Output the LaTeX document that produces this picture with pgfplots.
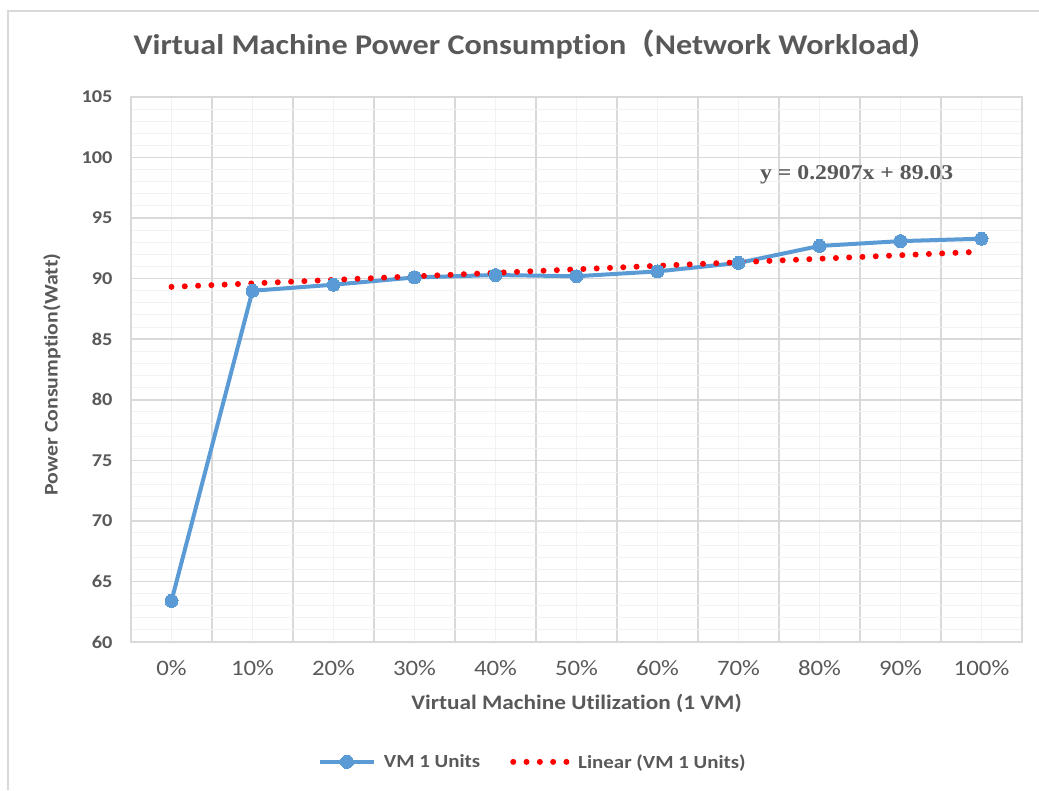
\documentclass[border=0pt]{standalone}
\usepackage{pgfplots}
\pgfplotsset{compat=1.18}
\usepackage{fontspec}
\setmainfont{Carlito}[FakeStretch=1.13, Ligatures=NoCommon]
\newfontfamily\eqfont{Liberation Serif}[FakeStretch=1.13]
\newfontfamily\cjk{Noto Sans CJK SC}
\definecolor{txt}{HTML}{595959}
\definecolor{vmblue}{HTML}{5B9BD5}
\definecolor{gmaj}{HTML}{D9D9D9}
\definecolor{gmin}{HTML}{F2F2F2}
\begin{document}
\begin{tikzpicture}
\useasboundingbox (0pt,0pt) rectangle (1039pt,790pt);
\draw[gmaj, line width=2pt] (8pt,0pt) -- (8pt,779pt) -- (1039pt,779pt);
\begin{axis}[
  at={(131pt,148pt)}, anchor=south west,
  width=891pt, height=545pt, scale only axis,
  xmin=-0.5, xmax=10.5, ymin=60, ymax=105,
  xtick={0,...,10},
  xticklabels={0\%,10\%,20\%,30\%,40\%,50\%,60\%,70\%,80\%,90\%,100\%},
  minor x tick num=1,
  ytick={60,65,...,105},
  minor y tick num=4,
  major tick length=0pt, minor tick length=0pt,
  xmajorgrids, xminorgrids, ymajorgrids, yminorgrids,
  major x grid style={gmin, line width=1pt},
  minor x grid style={gmaj, line width=1.5pt},
  major y grid style={gmaj, line width=1.5pt},
  minor y grid style={gmin, line width=1pt},
  axis line style={gmaj, line width=1.5pt},
  /pgf/number format/assume math mode=true,
  yticklabel style={font=\fontsize{18}{20}\selectfont\bfseries, text=txt, xshift=-15pt},
  xticklabel style={font=\fontsize{22}{24}\selectfont, text=txt, yshift=-15pt},
  xlabel={Virtual Machine Utilization (1 VM)},
  ylabel={Power Consumption(Watt)},
  xlabel style={font=\fontsize{20.6}{24}\selectfont\bfseries, text=txt, at={(rel axis cs:0.5,0)}, anchor=center, yshift=-61pt},
  ylabel style={font=\fontsize{19.3}{22}\selectfont\bfseries, text=txt, at={(rel axis cs:0,0.5)}, anchor=center, rotate=0, yshift=79pt, xshift=-5pt},
  title={Virtual Machine Power Consumption{\cjk （}Network Workload{\cjk ）}},
  title style={font=\fontsize{28.5}{32}\selectfont\bfseries, text=txt, at={(rel axis cs:0.454,1.086)}, anchor=center},
  legend columns=2,
  legend style={at={(rel axis cs:0.451,-0.22)}, anchor=center, draw=none, fill=none,
    font=\fontsize{18.5}{22}\selectfont\bfseries, text=txt,
    /tikz/every even column/.append style={column sep=28pt},
    /tikz/every odd column/.append style={column sep=6pt}},
  legend image code/.code={\draw[mark repeat=2, mark phase=2, #1] plot coordinates {(0pt,0pt) (27pt,0pt) (54pt,0pt)};},
]
\addplot[vmblue, line width=4pt, mark=*, mark size=6.5pt, mark options={fill=vmblue, draw=vmblue, line width=0pt}]
  coordinates {(0,63.4)(1,89.0)(2,89.5)(3,90.1)(4,90.3)(5,90.2)(6,90.6)(7,91.3)(8,92.7)(9,93.1)(10,93.3)};
\addlegendentry{VM 1 Units}
\addplot[red, line width=6pt, line cap=round, dash pattern=on 0pt off 13.3pt]
  coordinates {(0,89.3207)(10,92.2277)};
\addlegendentry{Linear (VM 1 Units)}
\node[font=\eqfont\bfseries\fontsize{21}{24}\selectfont, text=txt] at (axis cs:8.46,98.6) {y = 0.2907x + 89.03};
\end{axis}
\end{tikzpicture}
\end{document}
